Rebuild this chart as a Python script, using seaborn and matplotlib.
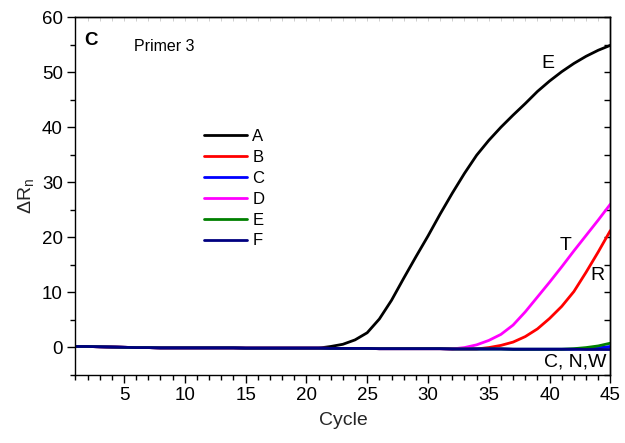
import matplotlib

matplotlib.use("Agg")
import matplotlib.pyplot as plt
import numpy as np
import pandas as pd
import seaborn as sns

# --- data (delta Rn per cycle) ---
cycles = list(range(1, 46))

baseline = [
    0.10, 0.10, 0.05, 0.00, -0.05, -0.10, -0.10, -0.15, -0.15, -0.15,
    -0.15, -0.15, -0.15, -0.15, -0.20, -0.20, -0.20, -0.20, -0.20, -0.20,
    -0.20, -0.25, -0.25, -0.25, -0.25, -0.30, -0.30, -0.30, -0.30, -0.30,
    -0.30, -0.35, -0.35, -0.35, -0.35, -0.35, -0.40, -0.40, -0.40, -0.40,
    -0.40, -0.40, -0.45, -0.45, -0.45,
]

curve_a = baseline[:21] + [
    0.1, 0.5, 1.3, 2.6, 5.1, 8.5, 12.5, 16.4, 20.2, 24.2, 28.0, 31.6,
    34.9, 37.6, 40.0, 42.2, 44.3, 46.5, 48.4, 50.1, 51.6, 52.9, 54.0, 54.9,
]
curve_b = baseline[:34] + [-0.1, 0.3, 0.9, 1.9, 3.3, 5.2, 7.4, 10.1, 13.6, 17.3, 21.2]
curve_c = baseline[:42] + [-0.3, -0.15, 0.1]
curve_d = baseline[:32] + [-0.1, 0.4, 1.2, 2.3, 4.0, 6.4, 9.1, 11.8, 14.6, 17.5, 20.3, 23.1, 26.0]
curve_e = baseline[:41] + [-0.3, -0.1, 0.2, 0.7]
curve_f = baseline[:]

series_names = ["A", "B", "C", "D", "E", "F"]
series_colors = ["#000000", "#ff0000", "#0000ff", "#ff00ff", "#008000", "#000080"]

curve_labels = ["E", "T", "R", "C, N,W"]
curve_label_x = [39.9, 41.3, 43.9, 44.7]
curve_label_y = [51.6, 18.5, 13.1, -2.7]


def main() -> int:
    sns.set_theme(style="ticks")
    plt.rcParams.update(
        {
            "font.family": ["Liberation Sans", "DejaVu Sans"],
            "mathtext.fontset": "custom",
            "mathtext.rm": "Liberation Sans",
            "mathtext.it": "Liberation Sans:italic",
            "axes.linewidth": 1.0,
            "axes.edgecolor": "#000000",
            "xtick.color": "#000000",
            "ytick.color": "#000000",
            "text.color": "#000000",
        }
    )

    df = pd.DataFrame(
        {
            "cycle": cycles * 6,
            "dRn": curve_a + curve_b + curve_c + curve_d + curve_e + curve_f,
            "sample": sum([[n] * len(cycles) for n in series_names], []),
        }
    )

    fig = plt.figure(figsize=(6.25, 4.43), dpi=100)
    ax = fig.add_axes([0.1206, 0.1546, 0.856, 0.8064])

    sns.lineplot(
        data=df,
        x="cycle",
        y="dRn",
        hue="sample",
        hue_order=series_names,
        palette=dict(zip(series_names, series_colors)),
        linewidth=2.0,
        ax=ax,
    )

    ax.set_xlim(1, 45)
    ax.set_ylim(-5, 60)
    ax.set_xticks(range(5, 46, 5))
    ax.set_xticks(range(1, 46), minor=True)
    ax.set_yticks(range(0, 61, 10))
    ax.set_yticks(range(-5, 61, 5), minor=True)
    ax.tick_params(which="major", direction="out", length=6, width=1, labelsize=13.5, pad=3)
    ax.tick_params(which="minor", direction="out", length=3.5, width=1)
    ax.set_xlabel("Cycle", fontsize=14, labelpad=6)
    ax.set_ylabel(r"$\Delta$R$_\mathregular{n}$", fontsize=14, labelpad=4)

    for side in ("top", "right"):
        ax.spines[side].set_visible(True)

    right = ax.secondary_yaxis("right")
    right.set_yticks(range(-5, 61, 5))
    right.tick_params(direction="in", length=4, width=1, labelright=False)

    top = ax.secondary_xaxis("top")
    top.set_xticks(range(1, 46))
    top.tick_params(direction="in", length=3, width=0.6, color="#c8c8c8", labeltop=False)

    for text, x, y in zip(curve_labels, curve_label_x, curve_label_y):
        ha = "right" if text.startswith("C,") else "center"
        ax.text(x, y, text, fontsize=14, ha=ha, va="center")

    ax.text(0.016, 0.935, "C", transform=ax.transAxes, fontsize=13.5, fontweight="bold", va="center")
    ax.text(0.11, 0.918, "Primer 3", transform=ax.transAxes, fontsize=11.5, va="center")

    ax.legend(
        loc="upper left",
        bbox_to_anchor=(0.225, 0.71),
        frameon=False,
        fontsize=12,
        handlelength=2.6,
        handletextpad=0.3,
        labelspacing=0.35,
        borderpad=0,
    )

    fig.savefig("out.png", dpi=100, facecolor="white")
    plt.close(fig)
    return 0


if __name__ == "__main__":
    raise SystemExit(main())
